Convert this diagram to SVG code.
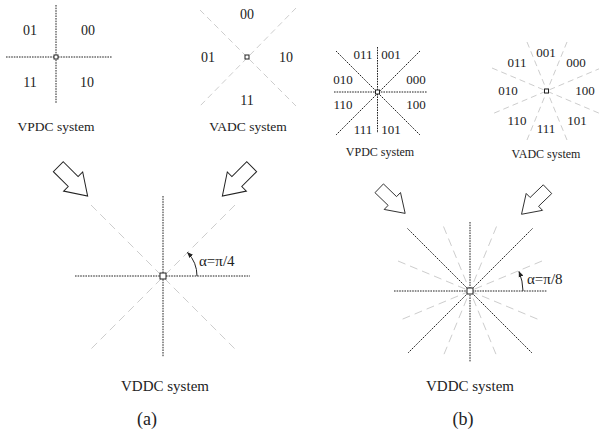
<svg xmlns="http://www.w3.org/2000/svg" width="599" height="435" viewBox="0 0 599 435" font-family="'Liberation Serif', 'Times New Roman', 'DejaVu Serif', serif">
<style>
text{font-family:'Liberation Serif','Times New Roman','DejaVu Serif',serif;fill:#222;text-anchor:middle}
.dot{stroke:#222;stroke-width:1;stroke-dasharray:1.6 1;fill:none}
.gray{stroke:#cdcdcd;stroke-width:1;stroke-dasharray:6 4;fill:none}
.gray2{stroke:#cdcdcd;stroke-width:1;stroke-dasharray:8 5;fill:none}
.sq{fill:#fff;stroke:#222;stroke-width:1}
.big{fill:#fff;stroke:#222;stroke-width:1;stroke-linejoin:miter}
.la{font-size:14px}
.lb{font-size:13px}
.ca{font-size:13.5px}
.cb{font-size:12px}
.bot{font-size:15px}
.sub{font-size:18px}
</style>
<defs>
<marker id="ah" viewBox="0 0 10 10" refX="9" refY="5" markerWidth="6" markerHeight="6" orient="auto" markerUnits="userSpaceOnUse">
<path d="M0,1 L10,5 L0,9 Z" fill="#222"/>
</marker>
<polygon id="barrow" points="0,-7 21,-7 21,-13.5 41.5,0 21,13.5 21,7 0,7"/>
</defs>

<!-- (a) VPDC -->
<g id="a-vpdc">
<line class="dot" x1="56" y1="5" x2="56" y2="103"/>
<line class="dot" x1="6" y1="57" x2="112" y2="57"/>
<rect class="sq" x="54" y="55" width="4" height="4"/>
<text class="la" x="30" y="35">01</text>
<text class="la" x="88" y="35">00</text>
<text class="la" x="30" y="87">11</text>
<text class="la" x="87" y="87">10</text>
<text class="ca" x="56" y="131">VPDC system</text>
</g>

<!-- (a) VADC -->
<g id="a-vadc">
<line class="gray" x1="200" y1="10" x2="296" y2="106"/>
<line class="gray" x1="296" y1="8" x2="200" y2="106"/>
<rect class="sq" x="245" y="55" width="4" height="4"/>
<text class="la" x="247" y="19">00</text>
<text class="la" x="208" y="62">01</text>
<text class="la" x="286" y="62">10</text>
<text class="la" x="247" y="105">11</text>
<text class="ca" x="248" y="131">VADC system</text>
</g>

<!-- (b) VPDC -->
<g id="b-vpdc">
<line class="dot" x1="377.5" y1="47" x2="377.5" y2="133"/>
<line class="dot" x1="334" y1="92" x2="427" y2="92"/>
<line class="dot" x1="336" y1="51" x2="420" y2="135"/>
<line class="dot" x1="420" y1="51" x2="336" y2="135"/>
<rect class="sq" x="375.5" y="90" width="4" height="4"/>
<text class="lb" x="363" y="59">011</text>
<text class="lb" x="391" y="59">001</text>
<text class="lb" x="343" y="84">010</text>
<text class="lb" x="416" y="84">000</text>
<text class="lb" x="343" y="109">110</text>
<text class="lb" x="416" y="109">100</text>
<text class="lb" x="363" y="134">111</text>
<text class="lb" x="391" y="134">101</text>
<text class="cb" x="380" y="156">VPDC system</text>
</g>

<!-- (b) VADC -->
<g id="b-vadc">
<line class="gray" x1="527" y1="42" x2="567" y2="140"/>
<line class="gray" x1="567" y1="42" x2="527" y2="140"/>
<line class="gray" x1="492" y1="68" x2="601" y2="114"/>
<line class="gray" x1="601" y1="68" x2="492" y2="114"/>
<rect class="sq" x="544.5" y="89" width="4" height="4"/>
<text class="lb" x="546" y="57">001</text>
<text class="lb" x="517" y="67">011</text>
<text class="lb" x="576" y="67">000</text>
<text class="lb" x="508" y="95">010</text>
<text class="lb" x="585" y="95">100</text>
<text class="lb" x="517" y="125">110</text>
<text class="lb" x="577" y="125">101</text>
<text class="lb" x="546" y="133">111</text>
<text class="cb" x="546" y="158">VADC system</text>
</g>

<!-- block arrows -->
<g id="arrows">
<use href="#barrow" class="big" transform="translate(58.3,166.7) rotate(45)"/>
<use href="#barrow" class="big" transform="translate(251.7,166.7) rotate(135)"/>
<use href="#barrow" class="big" transform="translate(379.2,188.3) rotate(44) scale(0.87)"/>
<use href="#barrow" class="big" transform="translate(547.5,189.2) rotate(136) scale(0.87)"/>
</g>

<!-- (a) VDDC -->
<g id="a-vddc">
<line class="gray2" x1="91" y1="205" x2="235" y2="349"/>
<line class="gray2" x1="235" y1="205" x2="91" y2="349"/>
<line class="dot" x1="163" y1="196" x2="163" y2="357"/>
<line class="dot" x1="75" y1="276" x2="250" y2="276"/>
<rect class="sq" x="160" y="273" width="6" height="6"/>
<path d="M197,276 A34,34 0 0 0 187.5,252.5" fill="none" stroke="#222" stroke-width="1" marker-end="url(#ah)"/>
<text x="199" y="266" style="font-size:15px;text-anchor:start">α=π/4</text>
<text class="bot" x="165" y="391">VDDC system</text>
</g>

<!-- (b) VDDC -->
<g id="b-vddc">
<line class="gray2" x1="398" y1="261" x2="542" y2="321"/>
<line class="gray2" x1="542" y1="261" x2="398" y2="321"/>
<line class="gray2" x1="443.5" y1="226.5" x2="496.5" y2="355.5"/>
<line class="gray2" x1="496.5" y1="226.5" x2="443.5" y2="355.5"/>
<line class="dot" x1="407.5" y1="228.5" x2="532.5" y2="353.5"/>
<line class="dot" x1="532.5" y1="228.5" x2="407.5" y2="353.5"/>
<line class="dot" x1="470" y1="222" x2="470" y2="362"/>
<line class="dot" x1="394" y1="291" x2="547" y2="291"/>
<rect class="sq" x="467" y="288" width="6" height="6"/>
<path d="M523,291 A53,53 0 0 0 519,271.5" fill="none" stroke="#222" stroke-width="1" marker-end="url(#ah)"/>
<text x="527" y="284" style="font-size:15px;text-anchor:start">α=π/8</text>
<text class="bot" x="470" y="391">VDDC system</text>
</g>

<g id="captions">
<text class="sub" x="147" y="425">(a)</text>
<text class="sub" x="463" y="425">(b)</text>
</g>
</svg>
